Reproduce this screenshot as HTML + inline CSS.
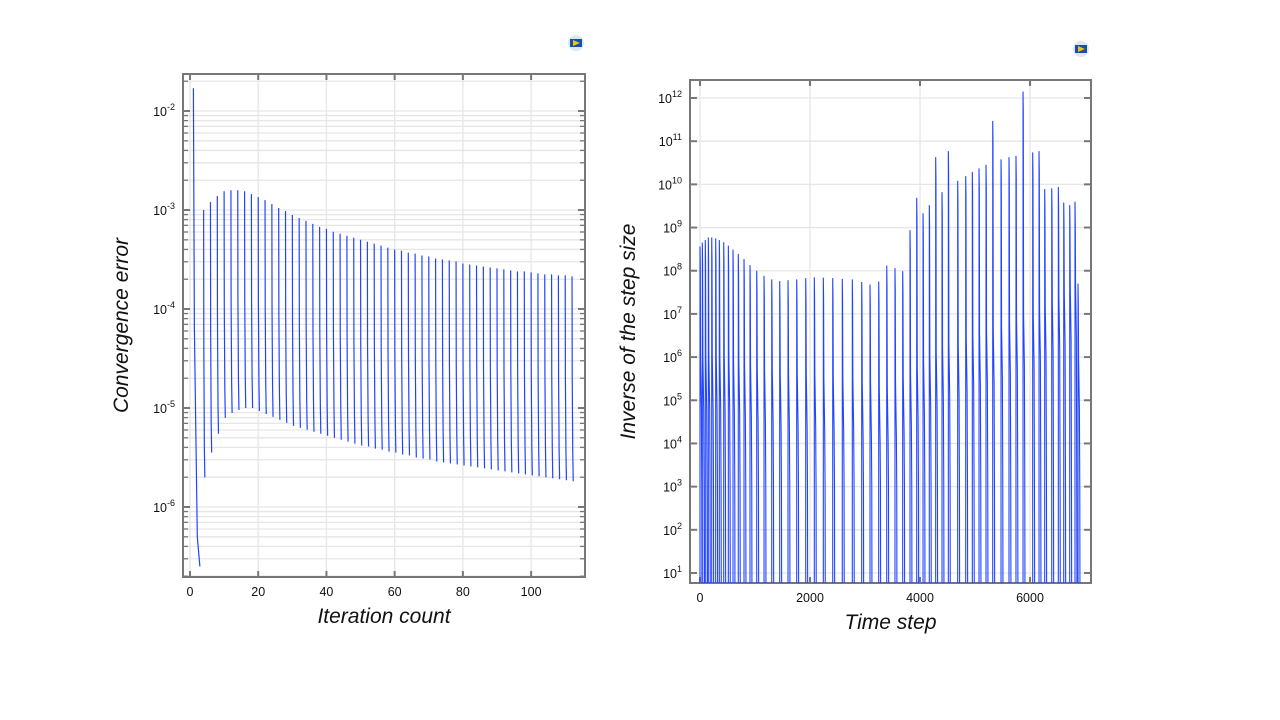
<!DOCTYPE html>
<html><head><meta charset="utf-8">
<style>
html,body{margin:0;padding:0;background:#fff;}
svg{display:block;font-family:"Liberation Sans",sans-serif;}
.tk{font-size:12.5px;fill:#111;}
.ttl{font-size:21px;font-style:italic;fill:#111;font-family:"Liberation Sans",sans-serif;}
</style></head>
<body>
<svg id="root" width="1280" height="720" viewBox="0 0 1280 720">
<defs>
<clipPath id="clipL"><rect x="183" y="74" width="402" height="503"/></clipPath>
<clipPath id="clipR"><rect x="690" y="80" width="401" height="503"/></clipPath>
</defs>
<g id="left"></g>
<g id="right"></g>
<g><circle cx="576" cy="43" r="8" fill="#dde6f4"/><rect x="570" y="39" width="12" height="8" fill="#1a4fa8"/><polygon points="573,40 580,43 573,46" fill="#f5c400"/></g>
<g><circle cx="1081" cy="49" r="8" fill="#dde6f4"/><rect x="1075" y="45" width="12" height="8" fill="#1a4fa8"/><polygon points="1078,46 1085,49 1078,52" fill="#f5c400"/></g>
</svg>
<script>
// ---- Left chart data ----
const iterPeaks = [1,4,6,8,10,12,14,16,18,20,22,24,26,28,30,32,34,36,38,40,42,44,46,48,50,52,54,56,58,60,62,64,66,68,70,72,74,76,78,80,82,84,86,88,90,92,94,96,98,100,102,104,106,108,110,112];
const errPeakLog = [-1.77,-3.0,-2.92,-2.86,-2.81,-2.80,-2.80,-2.81,-2.84,-2.87,-2.90,-2.94,-2.98,-3.01,-3.05,-3.08,-3.11,-3.14,-3.17,-3.19,-3.22,-3.24,-3.26,-3.28,-3.30,-3.32,-3.34,-3.36,-3.38,-3.40,-3.41,-3.43,-3.44,-3.46,-3.47,-3.49,-3.50,-3.51,-3.52,-3.54,-3.55,-3.56,-3.57,-3.58,-3.59,-3.60,-3.61,-3.62,-3.62,-3.63,-3.64,-3.65,-3.65,-3.66,-3.66,-3.67];
const errBottomLog = [-6.6,-5.7,-5.45,-5.26,-5.1,-5.05,-5.02,-5.0,-5.0,-5.03,-5.06,-5.09,-5.12,-5.15,-5.18,-5.2,-5.22,-5.24,-5.26,-5.28,-5.3,-5.32,-5.34,-5.36,-5.38,-5.39,-5.41,-5.42,-5.44,-5.45,-5.47,-5.48,-5.5,-5.51,-5.52,-5.54,-5.55,-5.56,-5.57,-5.58,-5.59,-5.6,-5.61,-5.62,-5.63,-5.64,-5.65,-5.66,-5.67,-5.68,-5.69,-5.7,-5.71,-5.72,-5.73,-5.74];
const leftXTicks = [0,20,40,60,80,100];
const leftYTicks = [-6,-5,-4,-3,-2];
// ---- Right chart data ----
const stepPeaks = [0,42,96,151,213,285,351,431,515,600,696,800,909,1031,1164,1304,1449,1600,1758,1922,2078,2242,2413,2587,2769,2940,3091,3249,3395,3545,3685,3818,3940,4055,4169,4285,4400,4515,4685,4831,4951,5073,5200,5322,5473,5618,5745,5873,6049,6164,6267,6395,6515,6613,6722,6818,6873];
const invPeakLog = [8.56,8.65,8.71,8.77,8.77,8.75,8.71,8.66,8.58,8.49,8.39,8.27,8.13,8.0,7.88,7.8,7.76,7.78,7.8,7.83,7.85,7.84,7.83,7.81,7.8,7.74,7.68,7.75,8.12,8.06,7.99,8.94,9.69,9.33,9.52,10.63,9.82,10.77,10.08,10.19,10.29,10.37,10.45,11.47,10.58,10.63,10.66,12.15,10.74,10.77,9.89,9.91,9.94,9.58,9.52,9.6,7.7];
const invMidLog = [6.0,6.0,6.0,6.0,6.0,6.0,6.0,6.0,6.0,5.9,5.9,5.8,5.8,5.7,5.7,5.7,5.6,5.6,5.6,5.6,5.6,5.5,5.5,5.5,5.5,5.4,5.4,5.3,5.3,5.4,5.5,5.6,5.8,5.9,6.0,6.1,6.2,6.3,6.3,6.4,6.5,6.5,6.6,6.6,6.7,6.8,6.9,7.0,7.0,7.1,7.2,7.3,7.4,7.5,7.6,7.7,6.0];
const rightXTicks = [0,2000,4000,6000];
const rightYTicks = [1,2,3,4,5,6,7,8,9,10,11,12];

const NS = "http://www.w3.org/2000/svg";
function mk(parent, tag, attrs){const e=document.createElementNS(NS,tag);for(const k in attrs)e.setAttribute(k,attrs[k]);parent.appendChild(e);return e;}

function drawFrame(g, box, sx, sy, xTicks, yTicks, minor, title, xTitle){
  const {x0,y0,x1,y1}=box;
  if(minor){
    for(let d=Math.floor(sy.min);d<=Math.ceil(sy.max);d++){
      for(let m=2;m<=9;m++){const v=d+Math.log10(m);if(v<sy.min||v>sy.max)continue;const y=sy(v);
        const l=mk(g,'line',{x1:x0,x2:x1,y1:y,y2:y,stroke:'#e6e6e6','stroke-width':1.3});
        
        
        mk(g,'line',{x1:x0,x2:x0+5,y1:y,y2:y,stroke:'#777','stroke-width':1.3});
        mk(g,'line',{x1:x1,x2:x1-5,y1:y,y2:y,stroke:'#777','stroke-width':1.3});
      }
    }
  }
  xTicks.forEach(v=>{const x=sx(v);
    const l=mk(g,'line',{x1:x,x2:x,y1:y0,y2:y1,stroke:'#e6e6e6','stroke-width':1.3});
    
    
    mk(g,'line',{x1:x,x2:x,y1:y1,y2:y1-6,stroke:'#777','stroke-width':2});
    mk(g,'line',{x1:x,x2:x,y1:y0,y2:y0+6,stroke:'#777','stroke-width':2});
    const t=mk(g,'text',{x:x,y:y1+19,'text-anchor':'middle',class:'tk'});t.textContent=v;
    
    
  });
  yTicks.forEach(v=>{const y=sy(v);
    const l=mk(g,'line',{x1:x0,x2:x1,y1:y,y2:y,stroke:'#e6e6e6','stroke-width':1.3});
    
    
    mk(g,'line',{x1:x0,x2:x0+7,y1:y,y2:y,stroke:'#777','stroke-width':2});
    mk(g,'line',{x1:x1,x2:x1-7,y1:y,y2:y,stroke:'#777','stroke-width':2});
    const t=mk(g,'text',{x:x0-8,y:y+5,'text-anchor':'end',class:'tk'});
    
    
    const a=document.createElementNS(NS,'tspan');a.textContent='10';t.appendChild(a);
    const b=document.createElementNS(NS,'tspan');b.setAttribute('dy','-6');b.setAttribute('font-size','9');b.textContent=String(v);t.appendChild(b);
  });
  const f=mk(g,'rect',{x:x0,y:y0,width:x1-x0,height:y1-y0,fill:'none',stroke:'#777','stroke-width':2});
  
  
  const yt=mk(g,'text',{x:0,y:0,'text-anchor':'middle',class:'ttl',transform:`translate(${x0-55},${(y0+y1)/2}) rotate(-90)`});
  yt.textContent=title;
  
  
  const xt=mk(g,'text',{x:(x0+x1)/2,y:y1+46,'text-anchor':'middle',class:'ttl'});
  xt.textContent=xTitle;
  
  
}
function scale(d0,d1,r0,r1){const f=v=>r0+(v-d0)/(d1-d0)*(r1-r0);f.min=Math.min(d0,d1);f.max=Math.max(d0,d1);return f;}

// Left
(function(){
  const g=document.getElementById('left');
  const box={x0:183,y0:74,x1:585,y1:577};
  const sx=scale(-2.05,115.8,183,585);
  const sy=scale(-6.707,-1.626,577,74);
  drawFrame(g,box,sx,sy,leftXTicks,leftYTicks,true,'Convergence error','Iteration count');
  iterPeaks.forEach((it,i)=>{
    const p=errPeakLog[i], b=errBottomLog[i];
    const w = i===0 ? 1.9 : 0.35;
    const pts=[[sx(it),sy(p)],[sx(it+w*0.15),sy(p-(p-b)*0.5)],[sx(it+w*0.6),sy(b+0.3)],[sx(it+w),sy(b)]];
    const pl=mk(g,'polyline',{points:pts.map(q=>q.join(',')).join(' '),fill:'none',stroke:'#2244ff','stroke-width':1.2,'clip-path':'url(#clipL)'});
    
    
  });
})();

// Right
(function(){
  const g=document.getElementById('right');
  const box={x0:690,y0:80,x1:1091,y1:583};
  const sx=scale(-182,7109,690,1091);
  const sy=scale(0.768,12.417,583,80);
  drawFrame(g,box,sx,sy,rightXTicks,rightYTicks,false,'Inverse of the step size','Time step');
  const pts=[];
  stepPeaks.forEach((t,i)=>{
    const p=invPeakLog[i], m=invMidLog[i];
    pts.push([sx(t),sy(0)]);
    pts.push([sx(t),sy(p)]);
    pts.push([sx(t+5),sy(p-0.5)]);
    pts.push([sx(t+10),sy(m)]);
    pts.push([sx(t+25),sy(m-1.2)]);
    pts.push([sx(t+32),sy(3)]);
    pts.push([sx(t+36),sy(0)]);
  });
  const pl=mk(g,'polyline',{points:pts.map(p=>p.join(',')).join(' '),fill:'none',stroke:'#2244ff','stroke-width':1.1,'clip-path':'url(#clipR)'});
  
  
})();
</script>
</body></html>
